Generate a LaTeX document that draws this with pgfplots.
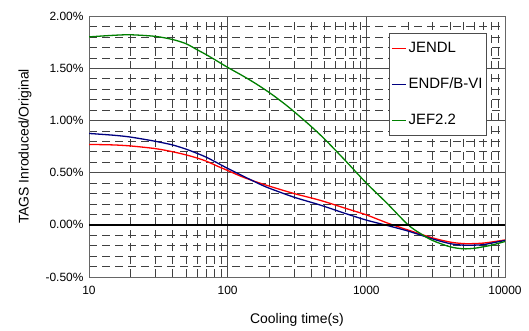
\documentclass[border=0pt]{standalone}
\usepackage{pgfplots}
\pgfplotsset{compat=1.18}
\usepackage{fontspec}
\setmainfont{Liberation Sans}
\begin{document}
\begin{tikzpicture}
\useasboundingbox (-89bp,-54bp) rectangle (440bp,277bp);
\begin{axis}[
  at={(0,0)}, anchor=south west,
  scale only axis, width=416bp, height=261bp,
  xmode=log, xmin=10, xmax=10000,
  ymin=-0.5, ymax=2.0,
  xtick={10,100,1000,10000},
  xticklabels={10,100,1000,10000},
  ytick={-0.5,0,0.5,1,1.5,2},
  yticklabels={-0.50\%,0.00\%,0.50\%,1.00\%,1.50\%,2.00\%},
  minor ytick={-0.4,-0.3,-0.2,-0.1,0.1,0.2,0.3,0.4,0.6,0.7,0.8,0.9,1.1,1.2,1.3,1.4,1.6,1.7,1.8,1.9},
  minor xtick={20,30,40,50,60,70,80,90,200,300,400,500,600,700,800,900,2000,3000,4000,5000,6000,7000,8000,9000},
  grid=both,
  major grid style={black!70, line width=0.6bp},
  minor grid style={black!75, line width=0.5bp, dash pattern=on 8bp off 5bp},
  major tick length=0pt, minor tick length=0pt,
  axis line style={black!60, line width=0.8bp},
  tick label style={font=\fontsize{12}{14}\selectfont},
  xticklabel style={yshift=-6bp},
  yticklabel style={xshift=-2bp},
  xlabel={Cooling time(s)},
  ylabel={TAGS Inroduced/Original},
  label style={font=\fontsize{14}{16}\selectfont},
  xlabel style={at={(0.5,0)}, anchor=center, yshift=-43bp},
  ylabel style={at={(0,0.5)}, anchor=center, yshift=64bp},
  legend style={at={(rel axis cs:0.721,0.935)}, anchor=north west, draw=black!70, line width=0.8bp,
    font=\fontsize{15}{17}\selectfont, row sep=20bp, inner xsep=2bp, inner ysep=7bp, fill=white},
  legend cell align=left,
  legend image code/.code={\draw[#1, line width=1.3bp] (0bp,0bp) -- (14bp,0bp);},
]
\addplot[red, line width=1.3bp, smooth] coordinates {
(10,0.77) (15,0.765) (20,0.755) (30,0.73) (40,0.70) (50,0.67) (60,0.64) (70,0.61) (85,0.56) (100,0.52) (130,0.455) (170,0.40) (200,0.37) (300,0.30) (463,0.235) (700,0.16) (1000,0.095) (1400,0.02) (1800,-0.03) (2000,-0.05) (3000,-0.125) (4000,-0.165) (5000,-0.18) (6000,-0.18) (7000,-0.175) (8000,-0.165) (10000,-0.145)};
\addlegendentry{JENDL}
\addplot[blue!50!black, line width=1.3bp, smooth] coordinates {
(10,0.875) (15,0.858) (20,0.84) (30,0.80) (40,0.765) (50,0.725) (60,0.685) (70,0.648) (85,0.59) (100,0.54) (130,0.465) (170,0.39) (200,0.35) (300,0.265) (463,0.19) (700,0.11) (1000,0.045) (1400,-0.005) (2000,-0.06) (3000,-0.135) (4000,-0.18) (5000,-0.195) (6000,-0.195) (7000,-0.19) (8000,-0.175) (10000,-0.15)};
\addlegendentry{ENDF/B-VI}
\addplot[green!50!black, line width=1.3bp, smooth] coordinates {
(10,1.80) (15,1.815) (20,1.82) (30,1.805) (40,1.775) (50,1.735) (60,1.678) (70,1.63) (80,1.585) (100,1.508) (130,1.423) (160,1.351) (200,1.266) (250,1.171) (300,1.086) (400,0.942) (500,0.821) (700,0.62) (1000,0.40) (1400,0.21) (2000,0.0) (2500,-0.09) (3000,-0.15) (4000,-0.21) (5000,-0.23) (6000,-0.225) (7000,-0.21) (8000,-0.195) (10000,-0.16)};
\addlegendentry{JEF2.2}
\addplot[black, line width=2.2bp, forget plot] coordinates {(10,0) (10000,0)};
\end{axis}
\end{tikzpicture}
\end{document}
